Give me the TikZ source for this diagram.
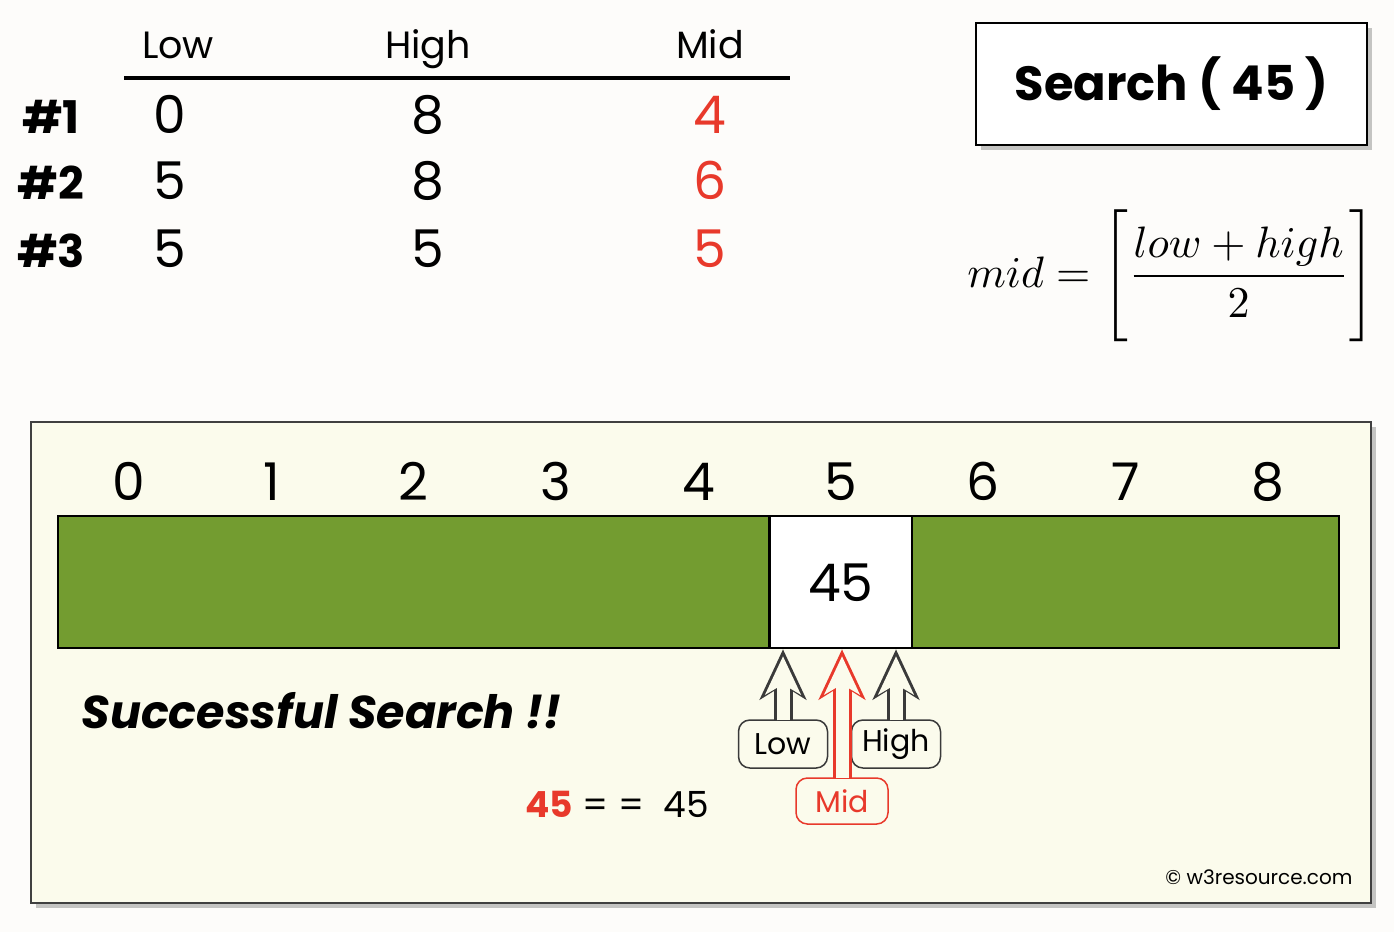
\RequirePackage{fix-cm}
\documentclass[tikz,border=0pt]{standalone}
\usepackage{amsmath}
\usepackage{fontspec}
\setmainfont{Poppins}
\usepackage{tikz}
\usetikzlibrary{positioning,arrows.meta,calc,shadows}
\definecolor{barGreen}{HTML}{739C30}
\definecolor{panelBg}{HTML}{FBFBEC}
\definecolor{pageBg}{HTML}{FDFCFA}
\definecolor{midRed}{HTML}{E8392B}
\definecolor{tagGray}{HTML}{3A3A3A}

\begin{document}
\begin{tikzpicture}[x=1pt,y=-1pt,node distance=66pt,on grid]

  \tikzset{
    hd/.style={font=\fontsize{38}{40}\selectfont, text height=28pt, text depth=0pt, inner sep=0pt},
    num/.style={font=\fontsize{52}{54}\selectfont, text height=38pt, text depth=0pt, inner sep=0pt},
    rowlbl/.style={num, font=\fontsize{45}{48}\selectfont\bfseries},
    cell/.style={minimum width=142.33pt, minimum height=132pt, inner sep=0pt, fill=barGreen},
    tag/.style={draw=tagGray, fill=panelBg, rounded corners=4mm, line width=1.5pt,
      font=\fontsize{30}{32}\selectfont, inner sep=0pt, minimum width=89pt, minimum height=48pt},
    hollow/.style={draw=#1, line width=19pt, shorten <=-1pt,
      -{Stealth[length=50pt, width=46pt, inset=14pt]},
      postaction={draw=panelBg, line width=13pt, shorten >=7pt, shorten <=-1pt,
        -{Stealth[length=38pt, width=35pt, inset=10pt]}}},
    hollow/.default=tagGray,
  }

   \fill[pageBg] (0,0) rectangle (1394,932);
   \useasboundingbox (0,0) rectangle (1394,932);

   % table of steps
   \node[hd] (hlow)  at (178,44) {Low};
   \node[hd] (hhigh) at (428,44) {High};
   \node[hd] (hmid)  at (710,44) {Mid};
   \coordinate (rulel) at (124,78);
   \coordinate (ruler) at (790,78);
   \draw[line width=4pt] (rulel) -- (ruler);

   \node[num] (low1) at (170,114) {0};
   \node[num] (high1) at (428,114) {8};
   \node[num,text=midRed] (mid1) at (710,114) {4};
   \node[rowlbl] (step1) at (51,114) {\#1};

   \node[num] (low2) [below=of low1] {5};
   \node[num] (high2) [below=of high1] {8};
   \node[num,text=midRed] (mid2) [below=of mid1] {6};
   \node[rowlbl] (step2) [below=of step1] {\#2};

   \node[num] (low3) [below=68pt of low2] {5};
   \node[num] (high3) [below=68pt of high2] {5};
   \node[num,text=midRed] (mid3) [below=68pt of mid2] {5};
   \node[rowlbl] (step3) [below=68pt of step2] {\#3};

   % key and formula
   \node[draw, line width=1.5pt, fill=white, minimum width=391pt, minimum height=122pt,
     drop shadow={shadow xshift=5pt, shadow yshift=-5pt, opacity=.45},
     font=\fontsize{48}{50}\selectfont\bfseries] (search) at (1171.5,84) {Search ( 45 )};
   \node[inner sep=0pt] (formula) at (1171,276)
     {\scalebox{4.4}{$mid = \Biggl[\dfrac{low + high}{2}\Biggr]$}};

   % array panel
   \node[draw=black!75, line width=1.5pt, fill=panelBg, minimum width=1340pt, minimum height=481pt,
     drop shadow={shadow xshift=5pt, shadow yshift=-5pt, opacity=.45}] (panel) at (701,662.5) {};

   \foreach \i in {0,...,8} {
     \node[cell] (c\i) at ({58+142.33*(\i+0.5)},582) {};
     \node[num] (idx\i) [above=101pt of c\i] {\i};
   }
   \draw[line width=2pt] (c0.north west) rectangle (c8.south east);
   \node[cell, fill=white, draw, line width=2.5pt, num] (hit) at (c5) {45};

   \node[font=\fontsize{46}{48}\selectfont\bfseries\itshape, anchor=base west] (found) at (78,728)
     {Successful Search !!};
   \node[font=\fontsize{36}{38}\selectfont, anchor=base west] (check) at (522,817)
     {\textcolor{midRed}{\bfseries 45} = =\ \ 45};

   % pointers
   \node[tag] (lowtag) at (783,744) {Low};
   \node[tag] (hightag) at (896,744) {High};
   \node[tag, draw=midRed, text=midRed, minimum width=92pt, minimum height=46pt] (midtag) at (842,801) {Mid};
   \draw[hollow] (lowtag.north) -- (lowtag.north |- hit.south);
   \draw[hollow] (hightag.north) -- (hightag.north |- hit.south);
   \draw[hollow=midRed] (midtag.north) -- (midtag.north |- hit.south);

   \node[font=\fontsize{20}{22}\selectfont, anchor=base east] (credit) at (1356,884) {\textcopyright{} w3resource.com};
\end{tikzpicture}
\end{document}
